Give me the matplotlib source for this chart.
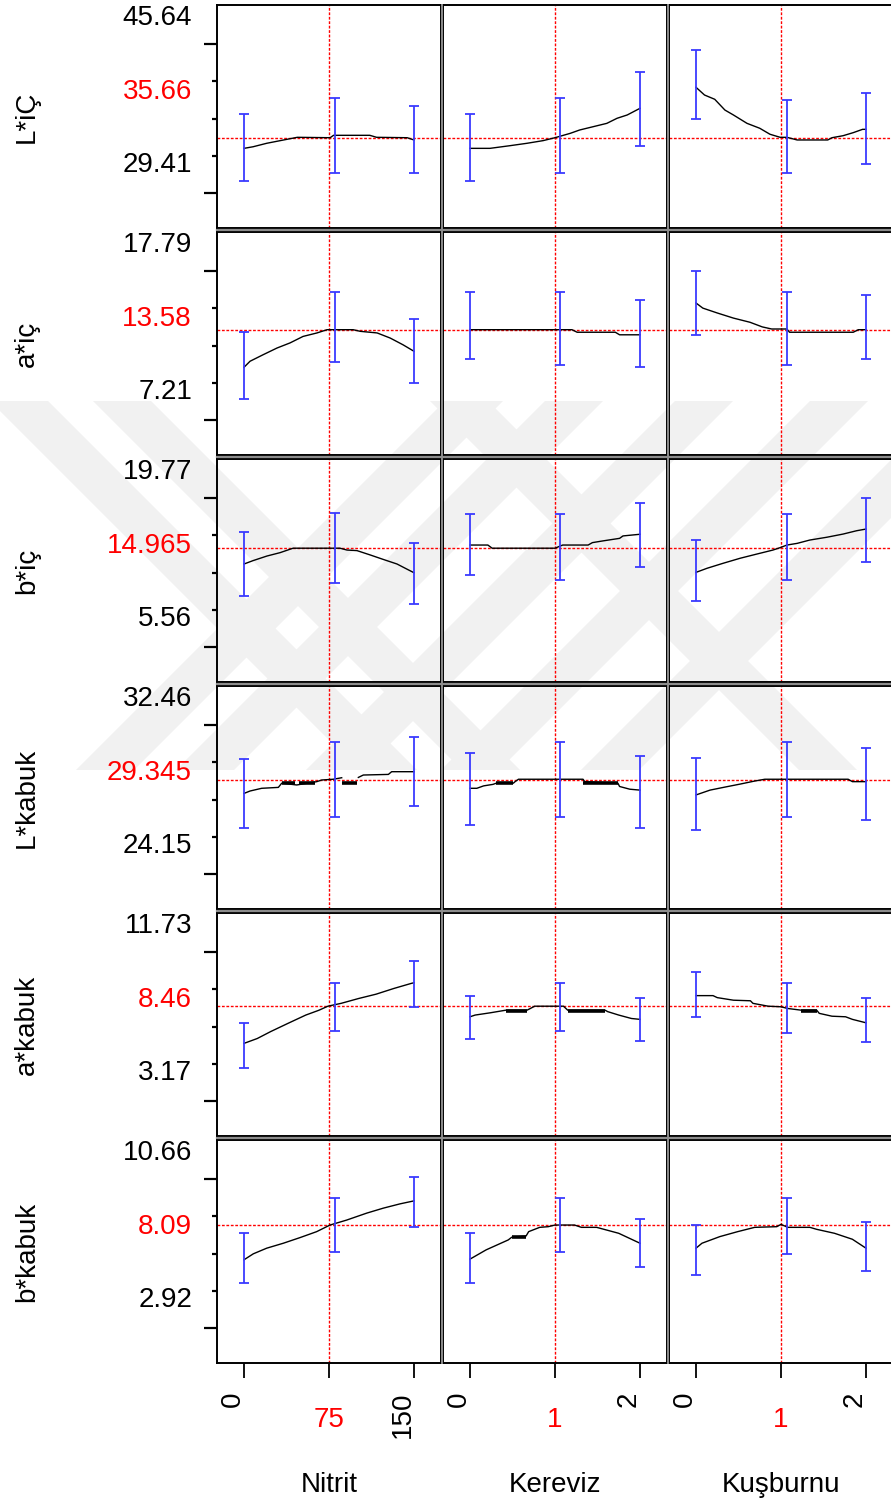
import numpy as np
import matplotlib.pyplot as plt
from matplotlib.lines import Line2D
from matplotlib.patches import Polygon

plt.rcParams['font.family'] = ['Liberation Sans', 'DejaVu Sans']

# factors (columns)
factors = ['Nitrit', 'Kereviz', 'Kuşburnu']
x_ticks = [[0, 75, 150], [0, 1, 2], [0, 1, 2]]
x_current = [75, 1, 1]
x_bars = [[0, 80, 150], [0, 1.06, 2], [0, 1.07, 2]]

# responses (rows)
responses = ['L*iÇ', 'a*iç', 'b*iç', 'L*kabuk', 'a*kabuk', 'b*kabuk']
y_top = [45.64, 17.79, 19.77, 32.46, 11.73, 10.66]
y_bottom = [28.87, 8.18, 7.77, 25.07, 3.93, 3.92]
y_current = [35.66, 13.58, 14.965, 29.345, 8.46, 8.09]
top_labels = ['45.64', '17.79', '19.77', '32.46', '11.73', '10.66']
cur_labels = ['35.66', '13.58', '14.965', '29.345', '8.46', '8.09']
low_labels = ['29.41', '7.21', '5.56', '24.15', '3.17', '2.92']

# prediction traces, one list per factor
L_ic_x = [[0, 8, 20, 32, 47, 76, 79, 111, 117, 144, 150],
          [0, 0.235, 0.47, 0.67, 0.86, 1.0, 1.18, 1.29, 1.45, 1.61, 1.73, 1.85, 2.0],
          [0, 0.1, 0.22, 0.34, 0.44, 0.6, 0.75, 0.87, 0.99, 1.07, 1.19, 1.55, 1.6, 1.73, 1.85, 1.96, 2.0]]
L_ic_y = [[34.86, 34.98, 35.24, 35.44, 35.69, 35.66, 35.84, 35.84, 35.69, 35.66, 35.49],
          [34.86, 34.86, 35.06, 35.24, 35.44, 35.66, 35.99, 36.24, 36.49, 36.74, 37.12, 37.37, 37.87],
          [39.45, 38.87, 38.55, 37.74, 37.37, 36.74, 36.37, 35.92, 35.69, 35.69, 35.49, 35.49, 35.66, 35.81, 36.04, 36.29, 36.29]]
L_ic_lo = [[32.40, 33.03, 33.03], [32.40, 33.03, 35.06], [37.04, 33.03, 33.66]]
L_ic_hi = [[37.44, 38.62, 38.04], [37.44, 38.62, 40.62], [42.26, 38.50, 39.04]]

a_ic_x = [[0, 5.3, 16.8, 29.1, 40.6, 52.1, 64.4, 73.3, 96.3, 102.5, 117.5, 129, 140.3, 150],
          [0, 1.2, 1.26, 1.71, 1.76, 2.0],
          [0, 0.08, 0.25, 0.44, 0.635, 0.78, 0.89, 1.07, 1.1, 1.85, 1.91, 2.0]]
a_ic_y = [[11.96, 12.22, 12.50, 12.79, 13.01, 13.29, 13.44, 13.58, 13.58, 13.51, 13.44, 13.22, 12.93, 12.65],
          [13.58, 13.58, 13.47, 13.47, 13.36, 13.36],
          [14.73, 14.51, 14.30, 14.08, 13.90, 13.70, 13.61, 13.61, 13.47, 13.47, 13.58, 13.58]]
a_ic_lo = [[10.59, 12.19, 11.28], [12.32, 12.07, 11.97], [13.34, 12.07, 12.32]]
a_ic_hi = [[13.47, 15.19, 14.05], [15.19, 15.19, 14.85], [16.12, 15.19, 15.09]]

b_ic_x = [[0, 7.9, 20.3, 31.8, 43.3, 84.7, 90.9, 99.7, 111.2, 122.7, 135, 143.9, 150],
          [0, 0.21, 0.26, 1.0, 1.09, 1.39, 1.44, 1.56, 1.76, 1.8, 2.0],
          [0, 0.13, 0.32, 0.52, 0.72, 0.905, 0.99, 1.07, 1.19, 1.34, 1.54, 1.73, 1.89, 2.0]]
b_ic_y = [[14.12, 14.30, 14.55, 14.73, 14.97, 14.97, 14.87, 14.84, 14.61, 14.37, 14.12, 13.84, 13.65],
          [15.14, 15.14, 14.97, 14.97, 15.14, 15.14, 15.27, 15.36, 15.50, 15.63, 15.72],
          [13.67, 13.89, 14.16, 14.43, 14.66, 14.87, 15.00, 15.14, 15.23, 15.41, 15.56, 15.73, 15.91, 16.00]]
b_ic_lo = [[12.40, 13.12, 11.97], [13.53, 13.26, 13.98], [12.13, 13.26, 14.24]]
b_ic_hi = [[15.83, 16.85, 15.27], [16.83, 16.83, 17.40], [15.40, 16.83, 17.69]]

L_kabuk_x = [[0, 5.3, 15.6, 30.3, 33.3, 46.5, 64.2, 68.6, 78.8, 86.2, np.nan, 100.9, 105.3, 127.4, 130.3, 150],
             [0, 0.08, 0.16, 0.27, 0.31, 0.51, 0.53, 0.57, 1.33, 1.35, 1.74, 1.76, 1.88, 2.0],
             [0, 0.165, 0.34, 0.52, 0.69, 0.81, 1.79, 1.84, 2.0]]
L_kabuk_y = [[28.90, 28.98, 29.07, 29.10, 29.24, 29.18, 29.29, 29.345, 29.37, 29.42, np.nan, 29.43, 29.51, 29.53, 29.62, 29.62],
             [29.07, 29.07, 29.15, 29.20, 29.24, 29.24, 29.29, 29.37, 29.37, 29.29, 29.24, 29.13, 29.04, 29.01],
             [28.85, 29.01, 29.11, 29.21, 29.31, 29.37, 29.37, 29.29, 29.29]]
L_kabuk_lo = [[27.76, 28.12, 28.47], [27.85, 28.12, 27.76], [27.69, 28.12, 28.02]]
L_kabuk_hi = [[30.05, 30.59, 30.76], [30.23, 30.59, 30.14], [30.06, 30.59, 30.42]]
L_kabuk_thick = [[(33.3, 45.2, 29.24), (48.8, 62.6, 29.24), (86.2, 100, 29.24)],
                 [(0.31, 0.51, 29.24), (1.33, 1.74, 29.24)],
                 []]

a_kabuk_x = [[0, 11.7, 23.4, 38.8, 54.5, 66.2, 74.0, 85.7, 101.2, 116.5, 132.2, 147.8, 150],
             [0, 0.06, 0.24, 0.42, 0.67, 0.71, 0.76, 1.10, 1.15, 1.59, 1.62, 1.75, 1.90, 2.0],
             [0, 0.2, 0.25, 0.44, 0.64, 0.67, 0.85, 1.0, 1.08, 1.24, 1.42, 1.45, 1.6, 1.76, 1.84, 2.0]]
a_kabuk_y = [[7.17, 7.34, 7.58, 7.87, 8.16, 8.33, 8.47, 8.57, 8.74, 8.89, 9.09, 9.27, 9.29],
             [8.10, 8.16, 8.24, 8.33, 8.33, 8.39, 8.47, 8.47, 8.33, 8.33, 8.28, 8.16, 8.04, 8.01],
             [8.84, 8.84, 8.77, 8.68, 8.66, 8.57, 8.47, 8.45, 8.39, 8.33, 8.33, 8.22, 8.12, 8.10, 8.01, 7.89]]
a_kabuk_lo = [[6.32, 7.61, 8.45], [7.33, 7.61, 7.25], [8.10, 7.54, 7.23]]
a_kabuk_hi = [[7.89, 9.29, 10.05], [8.84, 9.29, 8.74], [9.68, 9.29, 8.74]]
a_kabuk_thick = [[], [(0.42, 0.67, 8.31), (1.15, 1.59, 8.31)], [(1.24, 1.42, 8.31)]]

b_kabuk_x = [[0, 8.2, 20, 34.7, 49.4, 64.1, 75.9, 90.6, 108.3, 122.9, 137.7, 150],
             [0, 0.19, 0.45, 0.49, 0.66, 0.69, 0.82, 0.92, 1.0, 1.23, 1.31, 1.49, 1.75, 2.0],
             [0, 0.07, 0.28, 0.49, 0.69, 0.95, 1.0, 1.08, 1.34, 1.42, 1.63, 1.84, 2.0]]
b_kabuk_y = [[7.04, 7.22, 7.39, 7.54, 7.71, 7.89, 8.09, 8.24, 8.45, 8.60, 8.73, 8.82],
             [7.06, 7.34, 7.64, 7.72, 7.76, 7.89, 8.02, 8.04, 8.09, 8.09, 8.02, 8.02, 7.84, 7.54],
             [7.39, 7.54, 7.74, 7.89, 8.02, 8.04, 8.11, 8.02, 8.02, 7.96, 7.84, 7.66, 7.39]]
b_kabuk_lo = [[6.33, 7.29, 8.02], [6.33, 7.29, 6.82], [6.57, 7.22, 6.71]]
b_kabuk_hi = [[7.86, 8.90, 9.55], [7.86, 8.90, 8.27], [8.09, 8.90, 8.17]]
b_kabuk_thick = [[], [(0.49, 0.66, 7.74)], []]

curves_x = [L_ic_x, a_ic_x, b_ic_x, L_kabuk_x, a_kabuk_x, b_kabuk_x]
curves_y = [L_ic_y, a_ic_y, b_ic_y, L_kabuk_y, a_kabuk_y, b_kabuk_y]
bars_lo = [L_ic_lo, a_ic_lo, b_ic_lo, L_kabuk_lo, a_kabuk_lo, b_kabuk_lo]
bars_hi = [L_ic_hi, a_ic_hi, b_ic_hi, L_kabuk_hi, a_kabuk_hi, b_kabuk_hi]
thick = [[[], [], []], [[], [], []], [[], [], []], L_kabuk_thick, a_kabuk_thick, b_kabuk_thick]

# layout (pixels)
W, H = 891, 1506
col_left = [217, 443, 669]
row_top = [5, 232, 459, 686, 913, 1140]
pw, ph = 224, 223
tick_frac = [0.155, 0.323, 0.49, 0.657, 0.825]

red = '#ff0000'
blue = '#3a3aff'
fs = 20

fig = plt.figure(figsize=(W / 100, H / 100), dpi=100)
fig.patch.set_facecolor('white')

# faint diagonal watermark bands behind the panels
wm_top, wm_bot, wm_w = 401, 770, 58
wm_rising = [445, 545, 675, 810, 950]
wm_falling = [-10, 93, 430]
drop = wm_bot - wm_top
for a in wm_rising:
    pts = [(a, wm_top), (a + wm_w, wm_top), (a + wm_w - drop, wm_bot), (a - drop, wm_bot)]
    fig.add_artist(Polygon([(px / W, 1 - py / H) for px, py in pts], closed=True,
                           facecolor='#f1f1f1', edgecolor='none',
                           transform=fig.transFigure, zorder=-5))
for a in wm_falling:
    pts = [(a, wm_top), (a + wm_w, wm_top), (a + wm_w + drop, wm_bot), (a + drop, wm_bot)]
    fig.add_artist(Polygon([(px / W, 1 - py / H) for px, py in pts], closed=True,
                           facecolor='#f1f1f1', edgecolor='none',
                           transform=fig.transFigure, zorder=-5))

for r in range(6):
    span = y_top[r] - y_bottom[r]
    for c in range(3):
        ax = fig.add_axes([col_left[c] / W, 1 - (row_top[r] + ph) / H, pw / W, ph / H])
        ax.set_facecolor('none')
        t = x_ticks[c]
        pad = 0.159 * (t[-1] - t[0])
        ax.set_xlim(t[0] - pad, t[-1] + pad)
        ax.set_ylim(y_bottom[r], y_top[r])
        for s in ax.spines.values():
            s.set_linewidth(1.4)
            s.set_color('black')

        ax.axhline(y_current[r], color=red, lw=1.0, ls=(0, (2, 1.2)), zorder=1)
        ax.axvline(x_current[c], color=red, lw=1.0, ls=(0, (2, 1.2)), zorder=1)

        ax.plot(curves_x[r][c], curves_y[r][c], color='black', lw=1.0, zorder=3)
        for x0, x1, yv in thick[r][c]:
            ax.plot([x0, x1], [yv, yv], color='black', lw=2.6, solid_capstyle='butt', zorder=3)

        lo = np.array(bars_lo[r][c])
        hi = np.array(bars_hi[r][c])
        ax.errorbar(x_bars[c], (lo + hi) / 2, yerr=(hi - lo) / 2, fmt='none',
                    ecolor=blue, elinewidth=1.3, capsize=3.8, capthick=1.3, zorder=4)

        # y axis on the first column only
        if c == 0:
            yt = [y_bottom[r] + f * span for f in tick_frac]
            ax.set_yticks([yt[0], yt[4]])
            ax.set_yticks(yt[1:4], minor=True)
            ax.tick_params(axis='y', which='major', length=9.5, width=1.6, labelleft=False)
            ax.tick_params(axis='y', which='minor', length=3.8, width=1.6, labelleft=False)
            for lbl, yf, col in [(top_labels[r], 0.942, 'black'),
                                 (cur_labels[r], 0.61, red),
                                 (low_labels[r], 0.283, 'black')]:
                ax.annotate(lbl, xy=(0, yf), xycoords='axes fraction', xytext=(-18, 0),
                            textcoords='offset points', ha='right', va='center',
                            fontsize=fs, color=col)
            fig.text(27 / W, 1 - (row_top[r] + ph / 2) / H, responses[r], rotation=90,
                     ha='center', va='center', fontsize=fs)
        else:
            ax.set_yticks([])

        # x axis on the bottom row only
        if r == 5:
            ax.set_xticks(t)
            ax.tick_params(axis='x', length=11, width=1.3, labelbottom=False)
            for i, tv in enumerate(t):
                if i == 1:
                    ax.annotate(str(tv), xy=(tv, 0), xycoords=('data', 'axes fraction'),
                                xytext=(0, -41), textcoords='offset points',
                                ha='center', va='center', fontsize=fs, color=red)
                else:
                    ax.annotate(str(tv), xy=(tv, 0), xycoords=('data', 'axes fraction'),
                                xytext=(-8, -20.5), textcoords='offset points',
                                ha='center', va='top', rotation=90, fontsize=fs)
            ax.annotate(factors[c], xy=(x_current[c], 0), xycoords=('data', 'axes fraction'),
                        xytext=(0, -88), textcoords='offset points',
                        ha='center', va='center', fontsize=fs)
        else:
            ax.set_xticks([])

# gray separators between the panels
for r in range(1, 6):
    yy = 1 - (row_top[r] - 2) / H
    fig.add_artist(Line2D([col_left[0] / W, 1], [yy, yy], color='#8c8c8c', lw=1.6,
                          transform=fig.transFigure))
for c in range(1, 3):
    xx = (col_left[c] - 1.5) / W
    fig.add_artist(Line2D([xx, xx], [1 - (row_top[5] + ph) / H, 1 - row_top[0] / H],
                          color='#8c8c8c', lw=1.4, transform=fig.transFigure))

fig.savefig('out.png', dpi=100)
